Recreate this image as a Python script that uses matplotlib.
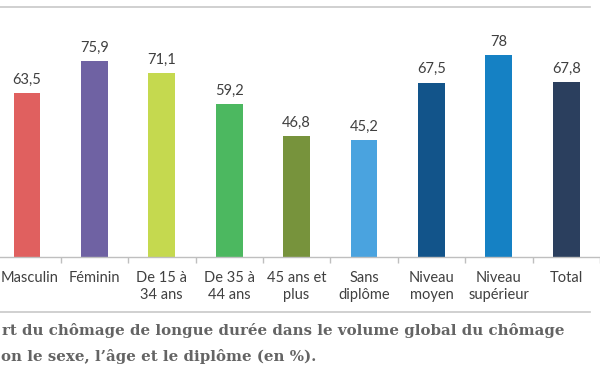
import matplotlib
matplotlib.use("Agg")
import matplotlib.pyplot as plt
from matplotlib.lines import Line2D
from matplotlib.transforms import ScaledTranslation

categories = ["Masculin", "Féminin", "De 15 à\n34 ans", "De 35 à\n44 ans", "45 ans et\nplus",
              "Sans\ndiplôme", "Niveau\nmoyen", "Niveau\nsupérieur", "Total"]
values = [63.5, 75.9, 71.1, 59.2, 46.8, 45.2, 67.5, 78, 67.8]
value_labels = ["63,5", "75,9", "71,1", "59,2", "46,8", "45,2", "67,5", "78", "67,8"]
colors = ["#e0605f", "#6f62a3", "#c5d94f", "#4cb860", "#77933c",
          "#4aa3df", "#12548a", "#1581c4", "#2b3f5e"]
caption_lines = ["rt du chômage de longue durée dans le volume global du chômage",
                 "on le sexe, l’âge et le diplôme (en %)."]

W, H = 600, 372
fig = plt.figure(figsize=(W / 100, H / 100), dpi=100)
fig.patch.set_facecolor("white")

ax = fig.add_axes([-6.7 / W, 1 - 257 / H, 606.6 / W, 90 * 2.585 / H])
x = list(range(len(categories)))
ax.bar(x, values, width=0.4, color=colors)
ax.set_xlim(-0.5, 8.5)
ax.set_ylim(0, 90)
for xi, v, lab in zip(x, values, value_labels):
    ax.annotate(lab, (xi, v), xytext=(0, 4.5), textcoords="offset points",
                ha="center", va="bottom", fontsize=10.5, color="#404040", family="Lato")

for s in ["top", "left", "right"]:
    ax.spines[s].set_visible(False)
ax.spines["bottom"].set_color("#bfbfbf")
ax.spines["bottom"].set_linewidth(1)
ax.set_yticks([])
ax.set_xticks(x)
ax.set_xticklabels(categories, fontsize=10.5, color="#404040", family="Lato", linespacing=1.25)
ax.tick_params(axis="x", which="major", length=0, pad=10)
ax.set_xticks([i + 0.5 for i in range(-1, 9)], minor=True)
ax.tick_params(axis="x", which="minor", length=4, color="#bfbfbf", width=1)

# nudge the first (edge) label so it stays inside the picture
first = ax.get_xticklabels()[0]
first.set_transform(first.get_transform() + ScaledTranslation(2.5 / 100, 0, fig.dpi_scale_trans))

# frame lines
fig.add_artist(Line2D([0, 590 / W], [1 - 7 / H, 1 - 7 / H], color="#c8c8c8", lw=1.2))
fig.add_artist(Line2D([0, 590 / W], [1 - 312 / H, 1 - 312 / H], color="#c8c8c8", lw=1.2))

fig.text(2 / W, 1 - 330 / H, caption_lines[0], fontsize=10.85, fontweight="bold",
         family="DejaVu Serif", color="#646464", ha="left", va="center")
fig.text(1 / W, 1 - 357 / H, caption_lines[1], fontsize=10.85, fontweight="bold",
         family="DejaVu Serif", color="#646464", ha="left", va="center")

fig.savefig("out.png", dpi=100)
